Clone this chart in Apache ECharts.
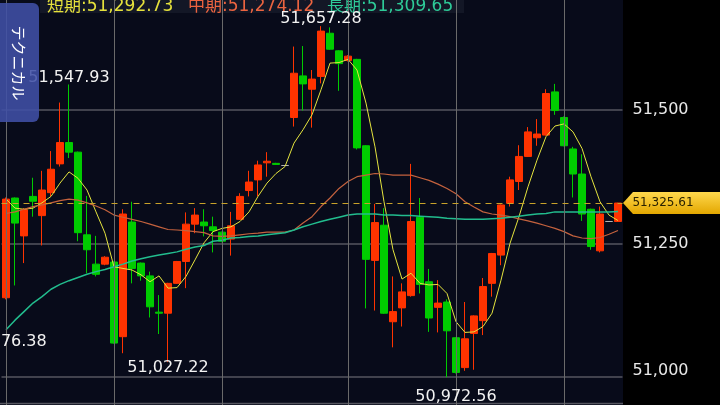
<!DOCTYPE html>
<html>
<head>
<meta charset="utf-8">
<script src="https://cdn.jsdelivr.net/npm/echarts@6/dist/echarts.min.js"></script>
<style>
  html, body { margin: 0; padding: 0; background: #080b1a; }
  #chart { width: 720px; height: 405px; }
</style>
</head>
<body>
<div id="chart"></div>
<script>
// candles, one category each (labels are hidden in the picture)
const categories = ['1','2','3','4','5','6','7','8','9','10','11','12','13','14','15','16','17','18','19','20',
  '21','22','23','24','25','26','27','28','29','30','31','32','33','34','35','36','37','38','39','40',
  '41','42','43','44','45','46','47','48','49','50','51','52','53','54','55','56','57','58','59','60',
  '61','62','63','64','65','66','67','68','69']

// [open, close, low, high]
const ohlc = [
  [51148, 51333, 51145, 51336], [51335, 51288, 51171, 51336], [51264, 51313, 51213, 51316],
  [51338, 51329, 51300, 51373], [51302, 51350, 51246, 51386], [51345, 51389, 51338, 51423],
  [51399, 51439, 51394, 51514], [51439, 51421, 51410, 51547.93], [51421, 51270, 51254, 51422],
  [51266, 51238, 51194, 51339], [51211, 51192, 51188, 51264], [51211, 51224, 51209, 51226],
  [51215, 51063, 51062, 51216], [51075, 51305, 51044, 51314], [51290, 51203, 51175, 51328],
  [51213, 51189, 51180, 51214], [51189, 51131, 51111, 51197], [51121, 51119, 51080, 51153],
  [51119, 51175, 51027.22, 51176], [51175, 51216, 51174, 51217], [51216, 51286, 51166, 51308],
  [51286, 51303, 51269, 51316], [51290, 51283, 51263, 51314], [51281, 51274, 51233, 51300],
  [51271, 51254, 51252, 51272], [51258, 51283, 51227, 51309], [51295, 51338, 51294, 51344],
  [51349, 51365, 51338, 51386], [51369, 51397, 51338, 51405], [51401, 51404, 51375, 51421],
  [51400, 51398, 51397, 51401], [51396, 51396, 51396, 51396], [51486, 51569, 51469, 51619],
  [51564, 51549, 51499, 51620], [51539, 51558, 51467, 51575], [51563, 51648, 51550, 51657.28],
  [51644, 51614, 51613, 51655], [51611, 51587, 51536, 51612], [51593, 51601, 51591, 51603],
  [51595, 51429, 51426, 51596], [51433, 51220, 51128, 51434], [51218, 51289, 51124, 51324],
  [51284, 51119, 51118, 51316], [51103, 51122, 51055, 51188], [51129, 51159, 51094, 51175],
  [51152, 51291, 51150, 51399], [51299, 51173, 51156, 51335], [51178, 51110, 51084, 51202],
  [51130, 51138, 51083, 51181], [51140, 51086, 50999, 51145], [51073, 51008, 51006, 51074],
  [51017, 51071, 51011, 51140], [51081, 51114, 51013, 51115], [51105, 51169, 51078, 51185],
  [51175, 51231, 51150, 51232], [51228, 51322, 51209, 51323], [51325, 51369, 51319, 51375],
  [51366, 51413, 51350, 51434], [51413, 51459, 51412, 51468], [51448, 51455, 51433, 51483],
  [51453, 51531, 51452, 51539], [51534, 51499, 51491, 51549], [51486, 51433, 51432, 51488],
  [51427, 51380, 51336, 51431], [51380, 51305, 51292, 51417], [51314, 51244, 51238, 51315],
  [51236, 51305, 51233, 51319], [51291, 51291, 51291, 51291], [51291, 51325.61, 51290, 51326]
]

// moving averages
const maShort = [51333, 51316, 51314, 51316, 51326, 51338, 51363, 51384, 51372, 51350,
  51309, 51269, 51206, 51203, 51200, 51191, 51178, 51189, 51166, 51167,
  51188, 51219, 51251, 51272, 51278, 51281, 51291, 51309, 51338, 51363,
  51381, 51394, 51438, 51463, 51491, 51538, 51588, 51589, 51595, 51575,
  51513, 51431, 51328, 51238, 51183, 51194, 51175, 51172, 51173, 51156,
  51103, 51083, 51084, 51094, 51119, 51181, 51250, 51300, 51356, 51406,
  51450, 51470, 51474, 51459, 51428, 51375, 51328, 51303, 51292.73]
const maMid = [51306, 51309, 51314, 51319, 51322, 51326, 51330, 51333, 51331, 51326,
  51320, 51313, 51303, 51299, 51295, 51291, 51286, 51281, 51276, 51275,
  51274, 51272, 51270, 51264, 51263, 51264, 51266, 51268, 51269, 51271,
  51271, 51271, 51275, 51288, 51300, 51319, 51335, 51353, 51366, 51375,
  51378, 51381, 51380, 51378, 51378, 51378, 51373, 51368, 51361, 51353,
  51343, 51328, 51318, 51309, 51305, 51303, 51300, 51296, 51292, 51288,
  51283, 51278, 51272, 51264, 51260, 51259, 51261, 51267, 51274.12]
const maLong = [51088, 51106, 51122, 51138, 51150, 51164, 51173, 51180, 51186, 51192,
  51197, 51201, 51206, 51211, 51217, 51221, 51225, 51228, 51231, 51234,
  51239, 51243, 51246, 51254, 51256, 51260, 51261, 51263, 51264, 51266,
  51268, 51270, 51275, 51281, 51286, 51291, 51295, 51299, 51303, 51305,
  51305, 51305, 51303, 51303, 51302, 51302, 51301, 51300, 51299, 51297,
  51296, 51295, 51295, 51295, 51296, 51297, 51299, 51301, 51303, 51305,
  51306, 51309, 51309, 51309, 51309, 51309, 51309, 51309, 51309.65]

// high / low callouts: [candle index, value, side]
const extremes = [
  [7, 51547.93, 'top'], [35, 51657.28, 'top'],
  [0, 51076.38, 'bottom'], [18, 51027.22, 'bottom'], [50, 50972.56, 'bottom']
]
// candles that carry a vertical separator line
const gridCols = [0, 12, 24, 38, 50, 62]
// lowest visible tick, its label is lifted to stay on screen
const lowTick = 51000

const FONT = '"DejaVu Sans", "Noto Sans CJK JP", sans-serif'
const fmt = (v) => v.toLocaleString('en-US', { minimumFractionDigits: 2, maximumFractionDigits: 2 })
const lastClose = ohlc[ohlc.length - 1][1]

const chart = echarts.init(document.getElementById('chart'))

const options = {
  backgroundColor: '#080b1a',
  animation: false,
  grid: { left: 1.5, right: 97.5, top: -23.3, height: 533.3, containLabel: false, outerBoundsMode: 'none' },
  xAxis: {
    type: 'category',
    data: categories,
    boundaryGap: true,
    show: false
  },
  yAxis: {
    type: 'value',
    position: 'right',
    min: 50750,
    max: 51750,
    interval: 250,
    axisLine: { show: false },
    axisTick: { show: false },
    axisLabel: {
      color: '#e8e8e8',
      fontSize: 16,
      fontFamily: FONT,
      margin: 10,
      formatter: (v) => v === lowTick ? '{low|' + v.toLocaleString('en-US') + '}' : v.toLocaleString('en-US'),
      rich: {
        low: { color: '#e8e8e8', fontSize: 16, fontFamily: FONT, padding: [0, 0, 12, 0] }
      }
    },
    splitLine: { lineStyle: { color: '#55565f', width: 1.5 } }
  },
  series: [
    {
      type: 'candlestick',
      data: ohlc,
      barWidth: 8,
      itemStyle: {
        color: '#ff3300',
        color0: '#00cc00',
        borderColor: '#ff3300',
        borderColor0: '#00cc00',
        borderColorDoji: '#b4b4b4',
        borderWidth: 1
      },
      markLine: {
        silent: true,
        symbol: ['none', 'none'],
        label: { show: false },
        data: gridCols.map((i) => ({ xAxis: i, lineStyle: { color: '#6a6a6a', width: 1, type: 'solid' } }))
          .concat([{ yAxis: lastClose, lineStyle: { color: '#c9a22a', width: 1.2, type: [6, 5] } }])
      },
      markPoint: {
        silent: true,
        symbol: 'circle',
        symbolSize: 1,
        itemStyle: { color: 'rgba(0,0,0,0)' },
        label: {
          show: true,
          position: 'inside',
          color: '#f2f2f2',
          fontSize: 16,
          fontFamily: FONT,
          formatter: (p) => fmt(p.value)
        },
        data: extremes.map((e) => ({
          coord: [e[0], e[1]],
          value: e[1],
          label: { offset: [0, e[2] === 'top' ? -7 : 6] }
        }))
      }
    },
    {
      type: 'line', data: maShort, symbol: 'none', silent: true,
      lineStyle: { color: '#e4e43e', width: 1 }
    },
    {
      type: 'line', data: maMid, symbol: 'none', silent: true,
      lineStyle: { color: '#c4623e', width: 1.2 }
    },
    {
      type: 'line', data: maLong, symbol: 'none', silent: true,
      lineStyle: { color: '#22bd8e', width: 1.5 }
    }
  ]
}

chart.setOption(options)

// decorations: right panel, header, button, price tag
const yTag = chart.convertToPixel({ yAxisIndex: 0 }, lastClose)
const plotRight = 623
const headFont = '17px ' + FONT

chart.setOption({
  graphic: [
    { type: 'rect', silent: true, z: -10, shape: { x: plotRight, y: 0, width: 720 - plotRight, height: 405 }, style: { fill: '#000' } },
    { type: 'line', silent: true, z: 1, shape: { x1: 0, y1: 403.5, x2: plotRight, y2: 403.5 }, style: { stroke: '#55565f', lineWidth: 1.5 } },
    { type: 'rect', silent: true, z: 1, shape: { x: 40, y: 0, width: 424, height: 13 }, style: { fill: '#131726' } },
    { type: 'text', silent: true, z: 2, x: 47, y: 6.5, style: { text: '短期:' + fmt(maShort[maShort.length - 1]), fill: '#e6e23c', font: headFont, textVerticalAlign: 'middle', verticalAlign: 'middle' } },
    { type: 'text', silent: true, z: 2, x: 188, y: 6.5, style: { text: '中期:' + fmt(maMid[maMid.length - 1]), fill: '#ec6440', font: headFont, textVerticalAlign: 'middle', verticalAlign: 'middle' } },
    { type: 'text', silent: true, z: 2, x: 327, y: 6.5, style: { text: '長期:' + fmt(maLong[maLong.length - 1]), fill: '#2ecb98', font: headFont, textVerticalAlign: 'middle', verticalAlign: 'middle' } },
    { type: 'rect', silent: true, z: 100, shape: { x: -6, y: 3, width: 45, height: 119, r: 6 }, style: { fill: 'rgba(64,80,166,0.88)' } },
    { type: 'text', silent: true, z: 101, x: 19, y: 63, rotation: -Math.PI / 2, style: { text: 'テクニカル', fill: '#ffffff', font: '15px "Noto Sans CJK JP"', textAlign: 'center', align: 'center', textVerticalAlign: 'middle', verticalAlign: 'middle' } },
    {
      type: 'polygon', silent: true, z: 100,
      shape: { points: [[plotRight, yTag], [633, yTag - 11], [720, yTag - 11], [720, yTag + 11], [633, yTag + 11]] },
      style: { fill: { type: 'linear', x: 0, y: 0, x2: 0, y2: 1, colorStops: [{ offset: 0, color: '#ffd84d' }, { offset: 1, color: '#e3a700' }] } }
    },
    { type: 'text', silent: true, z: 101, x: 663, y: yTag, style: { text: fmt(lastClose), fill: '#2a2200', font: '12px ' + FONT, textAlign: 'center', align: 'center', textVerticalAlign: 'middle', verticalAlign: 'middle' } }
  ]
})

window.addEventListener('resize', function () {
  chart.resize()
})
</script>
</body>
</html>
